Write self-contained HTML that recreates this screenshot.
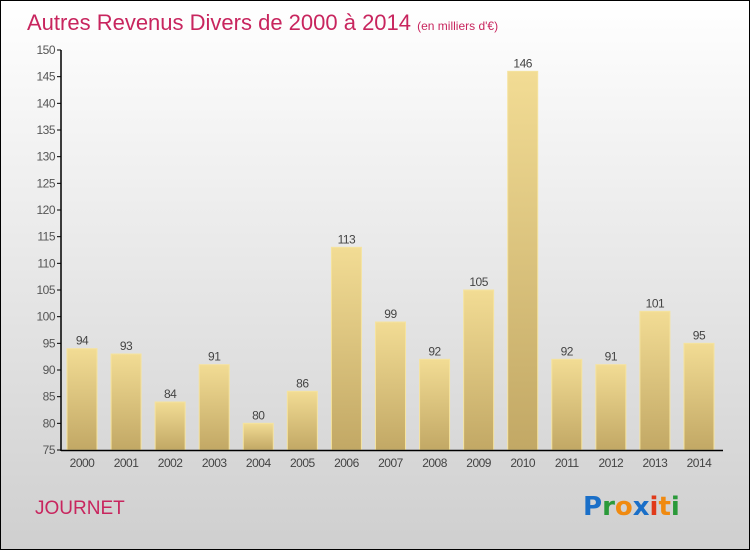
<!DOCTYPE html>
<html><head><meta charset="utf-8"><style>
body{margin:0}
#c{position:relative;width:748px;height:548px;border:1px solid #000;background:linear-gradient(#fff,#cfcfcf);font-family:"Liberation Sans",sans-serif;overflow:hidden}
</style></head><body>
<div id="c">
<svg id="s" width="748" height="548">
<defs><linearGradient id="g" x1="0" y1="0" x2="0" y2="1"><stop offset="0" stop-color="#f2dc94"/><stop offset="1" stop-color="#c2a865"/></linearGradient></defs>
<text x="26" y="29" font-size="22" fill="#c8255e">Autres Revenus Divers de 2000 à 2014 <tspan font-size="12">(en milliers d'€)</tspan></text>
<text x="34" y="513" font-size="19" fill="#c8255e">JOURNET</text>
<g font-size="26" font-weight="bold" font-family="'DejaVu Sans',sans-serif">
<text x="582" y="514"><tspan fill="#1a6fc8">P</tspan><tspan fill="#2a9a3a">r</tspan><tspan fill="#f08a10">o</tspan><tspan fill="#1a6fc8">x</tspan><tspan fill="#e03a1a">i</tspan><tspan fill="#f08a10">t</tspan><tspan fill="#2a9a3a">i</tspan></text></g>
<g id="plot"></g>
</svg></div>
<script>
const years=["2000","2001","2002","2003","2004","2005","2006","2007","2008","2009","2010","2011","2012","2013","2014"];
const values=[94,93,84,91,80,86,113,99,92,105,146,92,91,101,95];
const ticks=[75,80,85,90,95,100,105,110,115,120,125,130,135,140,145,150];
const NS="http://www.w3.org/2000/svg";
const p=document.getElementById('plot');
const y=v=>449-(v-75)*400/75;
const x=i=>81+i*44.07;
function mk(t,a,txt){const e=document.createElementNS(NS,t);for(const k in a)e.setAttribute(k,a[k]);if(txt!==undefined)e.textContent=txt;p.appendChild(e);return e;}
ticks.forEach(t=>{
const l=mk('line',{x1:56,x2:60,y1:y(t),y2:y(t),stroke:'#000'});


const tx=mk('text',{x:54,y:y(t)+4,'text-anchor':'end','font-size':12,fill:'#555','letter-spacing':'-0.5'},t);


});
values.forEach((v,i)=>{
const r=mk('rect',{x:x(i)-15,y:y(v),width:30,height:y(75)-y(v),fill:'url(#g)',stroke:'#f5e39f','stroke-width':1});


const vl=mk('text',{x:x(i),y:y(v)-4,'text-anchor':'middle','font-size':12,fill:'#444','letter-spacing':'-0.5'},v);


const xl=mk('text',{x:x(i),y:466,'text-anchor':'middle','font-size':12,fill:'#444','letter-spacing':'-0.5'},years[i]);


});
const ya=mk('line',{x1:60,x2:60,y1:y(150),y2:y(75)+1,stroke:'#000','stroke-width':1.5});


const xa=mk('line',{x1:60,x2:722,y1:y(75)+0.5,y2:y(75)+0.5,stroke:'#000','stroke-width':1.5});


</script>
</body></html>
